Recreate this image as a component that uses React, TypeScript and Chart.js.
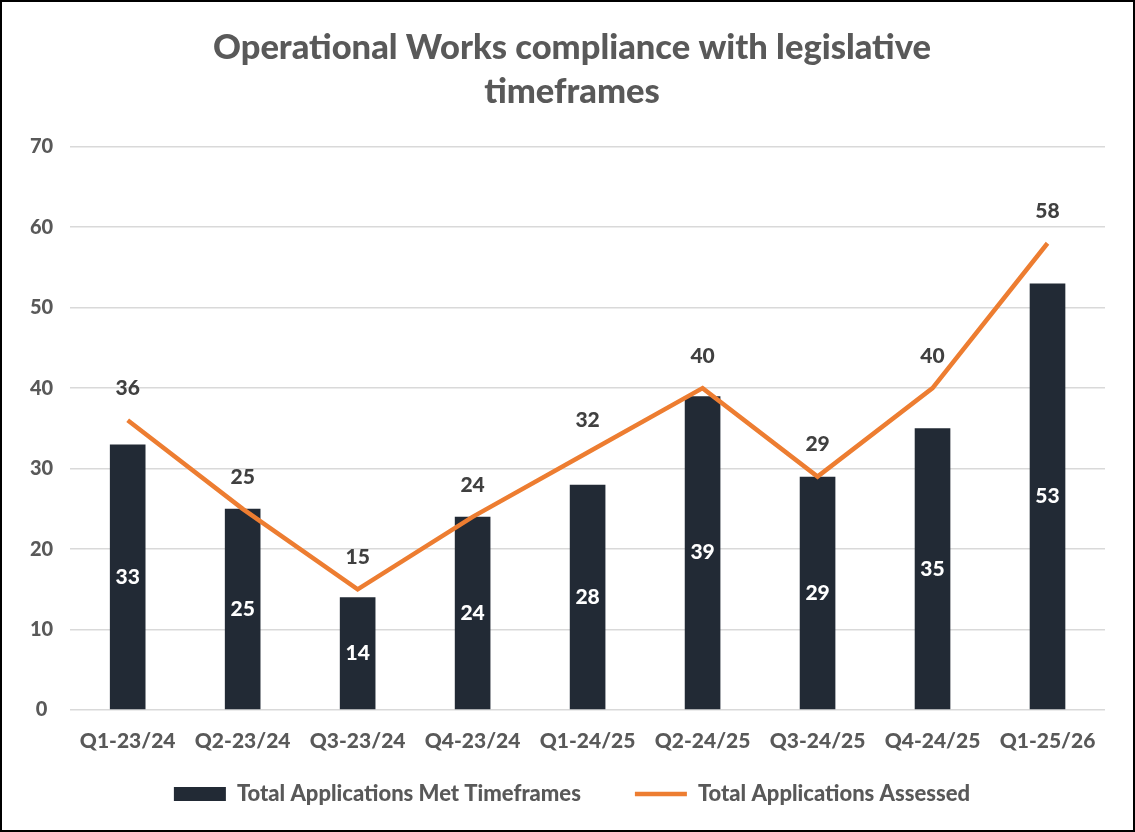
import React, { useEffect, useRef } from "react";
import { Chart, registerables } from "chart.js";

Chart.register(...registerables);

const categories = ["Q1-23/24", "Q2-23/24", "Q3-23/24", "Q4-23/24", "Q1-24/25", "Q2-24/25", "Q3-24/25", "Q4-24/25", "Q1-25/26"];
const metTimeframes = [33, 25, 14, 24, 28, 39, 29, 35, 53];
const assessed = [36, 25, 15, 24, 32, 40, 29, 40, 58];
const titleLines = ["Operational Works compliance with legislative", "timeframes"];

const FONT = "Lato, 'Noto Sans', sans-serif";
const W = 900;

const labelPlugin = {
  id: "valueLabels",
  afterLayout(chart: any) {
    // extend the legend box upward so its row sits closer to the axis labels
    if (chart.legend) {
      chart.legend.top -= 28;
      chart.legend.height += 28;
    }
  },
  afterDatasetsDraw(chart: any) {
    const ctx = chart.ctx;
    ctx.save();
    ctx.font = `${W} 21px ${FONT}`;
    ctx.textAlign = "center";
    ctx.textBaseline = "middle";
    chart.data.datasets.forEach((ds: any, di: number) => {
      const meta = chart.getDatasetMeta(di);
      meta.data.forEach((el: any, i: number) => {
        const v = ds.data[i];
        if (ds.type === "bar") {
          ctx.fillStyle = "#ffffff";
          ctx.fillText(String(v), el.x, (el.y + el.base) / 2);
        } else {
          ctx.fillStyle = "#404040";
          ctx.fillText(String(v), el.x, el.y - 32);
        }
      });
    });
    ctx.restore();
  },
};

export default function App() {
  const ref = useRef<HTMLCanvasElement>(null);
  useEffect(() => {
    if (!ref.current) return;
    const chart = new Chart(ref.current, {
      type: "bar",
      data: {
        labels: categories,
        datasets: [
          {
            type: "bar",
            label: "Total Applications Met Timeframes",
            data: metTimeframes,
            backgroundColor: "#222A35",
            borderColor: "#222A35",
            barPercentage: 0.31,
            categoryPercentage: 1,
            order: 1,
          } as any,
          {
            type: "line",
            label: "Total Applications Assessed",
            data: assessed,
            borderColor: "#ED7D31",
            backgroundColor: "#ED7D31",
            borderWidth: 4.5,
            pointRadius: 0,
            tension: 0,
            order: 0,
          } as any,
        ],
      },
      options: {
        animation: false,
        responsive: true,
        maintainAspectRatio: false,
        layout: { padding: { left: 11, right: 2, top: 10, bottom: 14 } },
        plugins: {
          tooltip: { enabled: false },
          title: {
            display: true,
            text: titleLines,
            color: "#595959",
            font: { family: FONT, size: 34.5, weight: W, lineHeight: 1.3 },
            padding: { top: 13, bottom: 32 },
          },
          legend: {
            position: "bottom",
            maxHeight: 59,
            labels: {
              color: "#595959",
              font: { family: FONT, size: 22, weight: W },
              usePointStyle: true,
              pointStyleWidth: 52,
              boxHeight: 14,
              padding: 54,
              sort: (a: any, b: any) => a.datasetIndex - b.datasetIndex,
              generateLabels: () => [
                {
                  text: "Total Applications Met Timeframes",
                  fillStyle: "#222A35",
                  strokeStyle: "#222A35",
                  lineWidth: 0,
                  pointStyle: "rect",
                  datasetIndex: 0,
                  fontColor: "#595959",
                },
                {
                  text: "Total Applications Assessed",
                  fillStyle: "#ED7D31",
                  strokeStyle: "#ED7D31",
                  lineWidth: 4.5,
                  pointStyle: "line",
                  datasetIndex: 1,
                  fontColor: "#595959",
                },
              ],
            },
          },
        },
        scales: {
          x: {
            grid: { display: false, drawTicks: false },
            border: { display: false },
            afterFit: (scale: any) => {
              scale.height = 47;
            },
            ticks: {
              color: "#595959",
              font: { family: FONT, size: 21, weight: W },
              padding: 19,
              maxRotation: 0,
            },
          },
          y: {
            min: 0,
            max: 70,
            grid: { color: "#D9D9D9", lineWidth: 1.5, drawTicks: false },
            border: { display: false },
            ticks: {
              stepSize: 10,
              color: "#595959",
              font: { family: FONT, size: 20, weight: W },
              padding: 17,
              crossAlign: "center",
            },
          },
          yRight: {
            position: "right",
            display: true,
            grid: { display: false, drawTicks: false },
            border: { display: false },
            ticks: { display: false },
            afterFit: (scale: any) => {
              scale.width = 26;
            },
          },
        } as any,
      },
      plugins: [labelPlugin],
    });
    return () => chart.destroy();
  }, []);

  return (
    <div
      style={{
        position: "fixed",
        left: 0,
        top: 0,
        width: 1135,
        height: 832,
        boxSizing: "border-box",
        border: "2px solid #000",
        background: "#fff",
      }}
    >
      <canvas ref={ref} />
    </div>
  );
}
